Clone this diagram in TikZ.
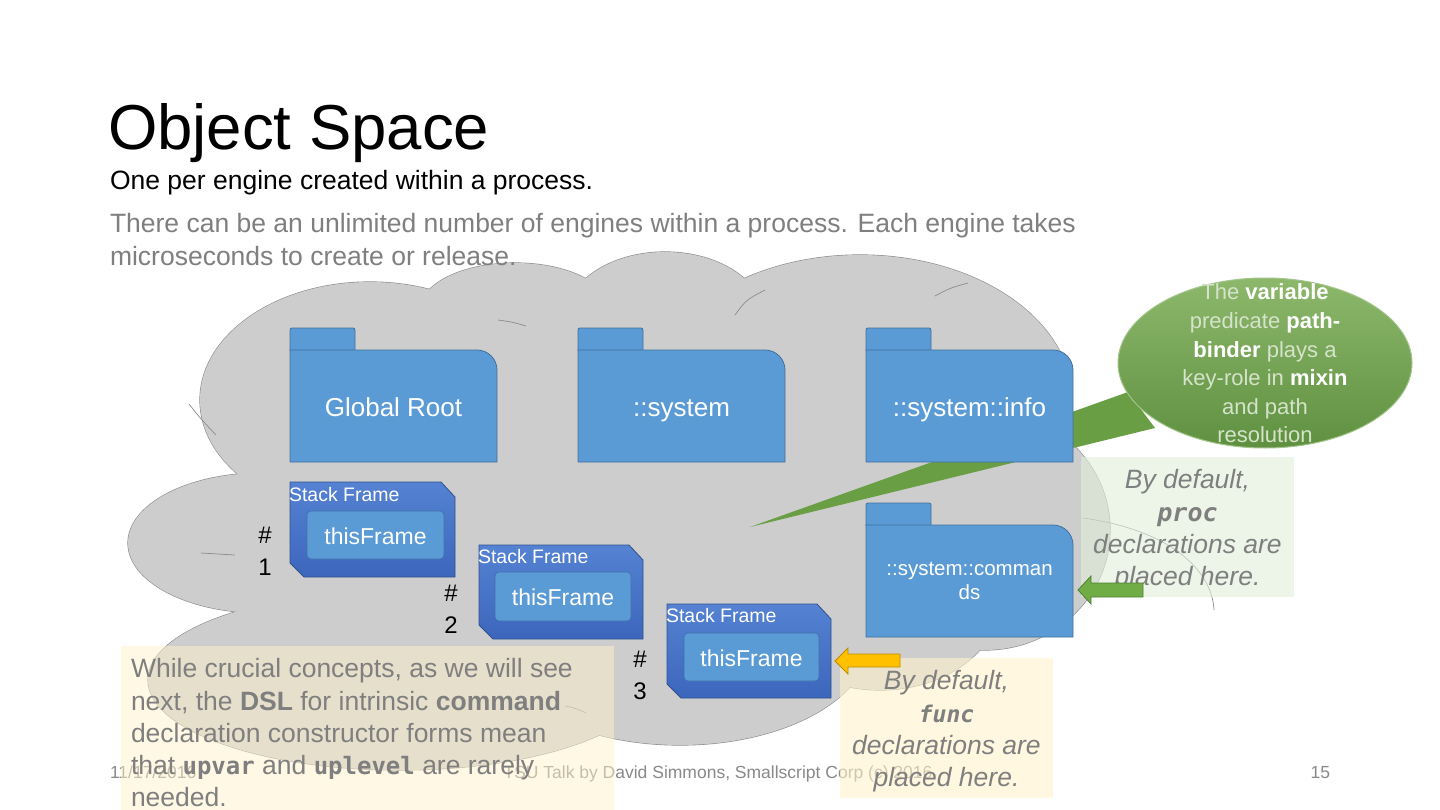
\documentclass[tikz,border=0pt]{standalone}
\usepackage{fontspec}
\setmainfont{Liberation Sans}
\setmonofont{DejaVu Sans Mono}
\definecolor{folderfill}{HTML}{5B9BD5}
\definecolor{folderline}{HTML}{41719C}
\definecolor{sftop}{HTML}{5582D2}
\definecolor{sfbot}{HTML}{3C66BC}
\definecolor{sfline}{HTML}{2F528F}
\definecolor{cloudfill}{HTML}{CDCDCD}
\definecolor{cloudline}{HTML}{8C8C8C}
\definecolor{txtgray}{HTML}{7F7F7F}
\definecolor{footgray}{HTML}{898989}
\definecolor{calltop}{HTML}{8DB86C}
\definecolor{callbot}{HTML}{5F9040}
\definecolor{calledge}{HTML}{A3C48A}
\definecolor{calltail}{HTML}{6A9E44}
\definecolor{calltxt}{HTML}{D6E3CB}
\definecolor{greenbox}{HTML}{E2EFDA}
\definecolor{yellowbox}{HTML}{FFF2CC}
\definecolor{arrgreen}{HTML}{70AD47}
\definecolor{arrgreenline}{HTML}{507E32}
\definecolor{arryellow}{HTML}{FFC000}
\definecolor{arryellowline}{HTML}{BC8C00}
\newcommand\fsz[2]{\fontsize{#1}{#2}\selectfont}
\begin{document}
\begin{tikzpicture}[x=1pt,y=-1pt,
  every node/.style={inner sep=0pt,outer sep=0pt},
  folder/.style={fill=folderfill,draw=folderline,line width=0.8pt},
  sframe/.style={top color=sftop,bottom color=sfbot,draw=sfline,line width=0.8pt},
  sfinner/.style={fill=folderfill,draw=sfline!60!folderfill,line width=0.6pt,rounded corners=4pt},
  foldertext/.style={text=white,font=\fsz{26}{30}},
  sflabel/.style={text=white,font=\fsz{19.5}{22},anchor=base west},
  thisf/.style={text=white,font=\fsz{23}{26},anchor=base},
  numtext/.style={text=black,font=\fsz{24}{32},align=center,anchor=north},
  bodytext/.style={text=txtgray,font=\fsz{26.5}{32.3}},
  calltext/.style={text=calltxt,font=\fsz{22}{28.6},align=center,anchor=north},
  foot/.style={text=footgray,font=\fsz{17.5}{20},anchor=base},
  innerarc/.style={draw=cloudline,line width=0.7pt}
]
\useasboundingbox (0,0) rectangle (1440,810);
\fill[white] (0,0) rectangle (1440,810);

% ---------- cloud ----------
\def\cloudparts{370/400/170/118, 515/310/95/47, 665/320/100/68, 860/400/212/145, 985/530/125/120, 262/543/134/70, 400/680/252/90, 680/640/190/105, 880/600/120/90}
\foreach \cx/\cy/\rx/\ry in \cloudparts
  \filldraw[fill=cloudfill,draw=cloudline,line width=1.2pt] (\cx,\cy) ellipse [x radius=\rx pt, y radius=\ry pt];
\foreach \cx/\cy/\rx/\ry in \cloudparts
  \fill[cloudfill] (\cx,\cy) ellipse [x radius=\rx pt, y radius=\ry pt];
\fill[cloudfill] (260,400) rectangle (990,640);
\fill[cloudfill] (300,320) rectangle (990,640);
% small inner arcs of the cloud
\draw[innerarc] (189,404) .. controls (200,418) .. (216,435);
\draw[innerarc] (201,553) .. controls (218,554) .. (235,555);
\draw[innerarc] (498,320) .. controls (512,322) .. (526,326);
\draw[innerarc] (735,315) .. controls (746,300) .. (765,290);
\draw[innerarc] (935,296) .. controls (950,288) .. (968,283);
\draw[innerarc] (1083,518) .. controls (1170,530) and (1212,570) .. (1214,610);
\draw[innerarc] (565,706) .. controls (575,708) .. (586,713);

% ---------- title texts ----------
\node[anchor=base west,font=\fsz{63.5}{70}] (title) at (108,150) {Object Space};
\node[anchor=base west,font=\fsz{26.5}{30}] (subtitle) at (110,190) {One per engine created within a process.};
\node[bodytext,anchor=north west,align=left] (intro) at (110,213.5)
  {There can be an unlimited number of engines within a process. Each engine takes\\microseconds to create or release.};

% ---------- callout ----------
\fill[calltail] (1128,392) -- (750,527) -- (1155,428) -- cycle;
\shade[top color=calltop,bottom color=callbot,draw=calledge,line width=1pt]
  (1265,363) ellipse [x radius=147pt, y radius=85pt];
\node[calltext] (callout) at (1265,284)
  {The \textbf{\color{white}variable}\\predicate \textbf{\color{white}path-}\\\textbf{\color{white}binder} plays a\\key-role in \textbf{\color{white}mixin}\\and path\\resolution};
\coordinate (calloutTip) at (750,527);

% ---------- folders ----------
\newcommand\drawfolder[5]{% name, x0, y0(body top), x1, y1
  \draw[folder,rounded corners=2pt] (#2,#3+1) -- (#2,#3-22) -- (#2+65,#3-22) -- (#2+65,#3+1);
  \draw[folder] (#2,#3) -- (#4-20,#3) .. controls (#4-9,#3) and (#4,#3+9) .. (#4,#3+20) -- (#4,#5) -- (#2,#5) -- cycle;
}
\drawfolder{gr}{290}{350}{497}{462}
\drawfolder{sys}{578}{350}{785}{462}
\drawfolder{info}{866}{350}{1073}{462}
\drawfolder{cmd}{866}{525}{1073}{637}
\node[foldertext,anchor=base] (globalroot) at (393.5,416) {Global Root};
\node[foldertext,anchor=base] (system) at (681.5,416) {::system};
\node[foldertext,anchor=base] (sysinfo) at (969.5,416) {::system::info};
\node[text=white,font=\fsz{20.5}{24},align=center,anchor=north] (syscmd) at (969.5,562.5) {::system::comman\\ds};

% ---------- stack frames ----------
\newcommand\drawframe[4]{% x0 y0 x1 y1
  \draw[sframe] (#1,#2) -- (#3-14,#2) -- (#3,#2+15) -- (#3,#4) -- (#1+14,#4) -- (#1,#4-14) -- cycle;
}
\drawframe{290}{482}{455}{577}
\drawframe{479}{545}{643}{639}
\drawframe{667}{604}{831}{698}
\draw[sfinner] (307,511) rectangle (444,559);
\draw[sfinner] (495,572) rectangle (631,621);
\draw[sfinner] (684,633) rectangle (819,681);
\node[sflabel] (sf1) at (289,501) {Stack Frame};
\node[sflabel] (sf2) at (478,563) {Stack Frame};
\node[sflabel] (sf3) at (666,622) {Stack Frame};
\node[thisf] (tf1) at (375.5,544) {thisFrame};
\node[thisf] (tf2) at (563,605) {thisFrame};
\node[thisf] (tf3) at (751.5,666) {thisFrame};
\node[numtext] (n1) at (265,527) {\#\\1};
\node[numtext] (n2) at (451,585) {\#\\2};
\node[numtext] (n3) at (640,651) {\#\\3};

% ---------- footer ----------
\node[foot,anchor=base west] (date) at (110,778) {11/17/2016};
\node[foot] (talk) at (718,778) {TSU Talk by David Simmons, Smallscript Corp (c) 2016};
\node[foot,anchor=base east] (page) at (1330,778) {15};

% ---------- note boxes ----------
\fill[greenbox,fill opacity=0.6] (1081,457) rectangle (1294,597);
\node[bodytext,align=center,anchor=north,font=\fsz{26.5}{32.3}\itshape] (procnote) at (1187.5,469.5)
  {By default,\\{\ttfamily\bfseries\fsz{25}{32.3}proc}\\declarations are\\placed here.};
\fill[yellowbox,fill opacity=0.6] (840,658) rectangle (1053,798);
\node[bodytext,align=center,anchor=north,font=\fsz{26.5}{32.3}\itshape] (funcnote) at (946.5,670.5)
  {By default,\\{\ttfamily\bfseries\fsz{23}{32.3}func}\\declarations are\\placed here.};
\fill[yellowbox,fill opacity=0.5] (121,646) rectangle (614,810);
\node[bodytext,align=left,anchor=north west] (dslnote) at (131,658.5)
  {While crucial concepts, as we will see\\next, the \textbf{DSL} for intrinsic \textbf{command}\\declaration constructor forms mean\\that {\ttfamily\bfseries\fsz{24}{32.3}upvar} and {\ttfamily\bfseries\fsz{24}{32.3}uplevel} are rarely\\needed.};

% ---------- block arrows (on top) ----------
\filldraw[fill=arrgreen,draw=arrgreenline,line width=0.8pt]
  (1078,590) -- (1091,576) -- (1091,583) -- (1143,583) -- (1143,597) -- (1091,597) -- (1091,604) -- cycle;
\filldraw[fill=arryellow,draw=arryellowline,line width=0.8pt]
  (835,661) -- (848,648) -- (848,654) -- (900,654) -- (900,667) -- (848,667) -- (848,674) -- cycle;
\end{tikzpicture}
\end{document}
